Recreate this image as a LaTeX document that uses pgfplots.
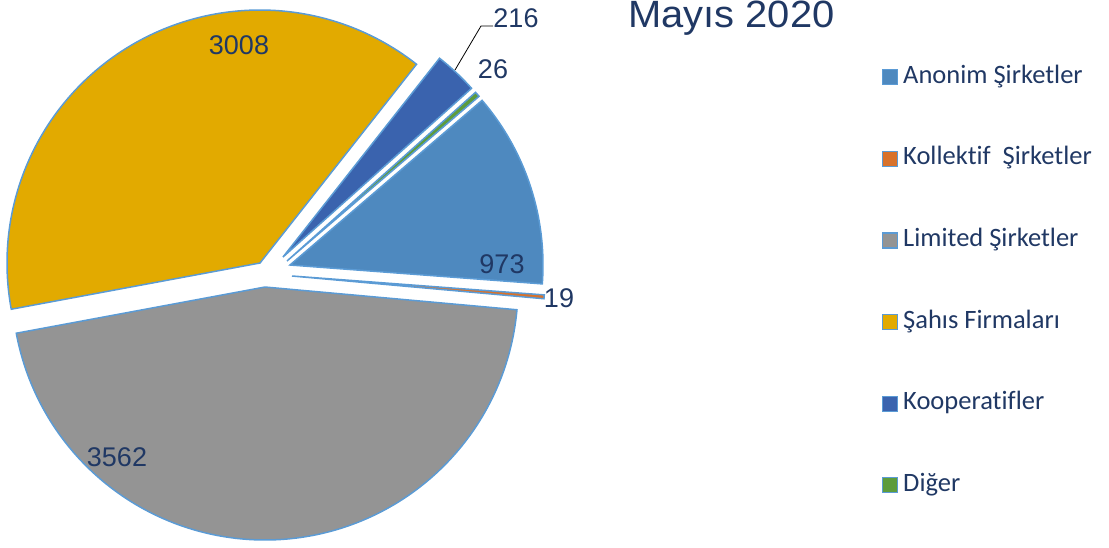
\documentclass[border=0pt]{standalone}
\usepackage{pgfplots}
\pgfplotsset{compat=1.18}
\usepackage{fontspec}
\newfontfamily\lib{Liberation Sans}
\newfontfamily\titlefont[FakeStretch=1.05]{Liberation Sans}
\newfontfamily\carlito[Ligatures=NoCommon]{Carlito}
\definecolor{navy}{HTML}{203864}
\definecolor{edge}{HTML}{5B9BD5}
\definecolor{cAnon}{HTML}{4E89BF}
\definecolor{cKoll}{HTML}{D8722B}
\definecolor{cLim}{HTML}{949494}
\definecolor{cSah}{HTML}{E2AA00}
\definecolor{cKoop}{HTML}{3A63AE}
\definecolor{cDig}{HTML}{5E9C3C}
% values
\def\vA{973}\def\vB{19}\def\vC{3562}\def\vD{3008}\def\vE{216}\def\vF{26}
\pgfmathsetmacro\tot{\vA+\vB+\vC+\vD+\vE+\vF}
\pgfmathsetmacro\aO{40.6}
\pgfmathsetmacro\aA{\aO-\vA/\tot*360}
\pgfmathsetmacro\aB{\aA-\vB/\tot*360}
\pgfmathsetmacro\aC{\aB-\vC/\tot*360}
\pgfmathsetmacro\aD{\aC-\vD/\tot*360}
\pgfmathsetmacro\aE{\aD-\vE/\tot*360}
\pgfmathsetmacro\aF{\aE-\vF/\tot*360}
\def\R{253}
\begin{document}
\begin{tikzpicture}
\useasboundingbox (0,0) rectangle (1109pt,547pt);
\clip (0,0) rectangle (1109pt,547pt);
\begin{axis}[
  scale only axis, width=1109pt, height=547pt,
  xmin=0, xmax=1109, ymin=0, ymax=547, y dir=reverse,
  hide axis, clip=false,
  area legend,
  legend image code/.code={\draw[#1, draw=edge, line width=1.2pt] (1pt,-7.5pt) rectangle (16pt,7.5pt); \path[draw=none, fill=none] (0pt,0pt) -- (21pt,0pt);},
  legend cell align=left,
  legend style={at={(axis cs:881,65)}, anchor=north west, draw=none, fill=none,
    font=\carlito\fontsize{26.5}{30}\selectfont, text=navy, row sep=57.6pt,
    inner sep=0pt,
    nodes={inner sep=1pt, text height=17pt, text depth=5pt}},
]
\addplot[fill=cAnon, draw=edge, line width=1.5pt, domain=\aA:\aO, samples=80, variable=\t]
  ({290+\R*cos(t)}, {265-\R*sin(t)}) -- (axis cs:290,265) -- cycle;
\addlegendentry{Anonim Şirketler}
\addplot[fill=cKoll, draw=edge, line width=1.5pt, domain=\aB:\aA, samples=5, variable=\t]
  ({292+\R*cos(t)}, {276-\R*sin(t)}) -- (axis cs:292,276) -- cycle;
\addlegendentry{Kollektif~ Şirketler}
\addplot[fill=cLim, draw=edge, line width=1.5pt, domain=\aC:\aB, samples=200, variable=\t]
  ({265+\R*cos(t)}, {287-\R*sin(t)}) -- (axis cs:265,287) -- cycle;
\addlegendentry{Limited Şirketler}
\addplot[fill=cSah, draw=edge, line width=1.5pt, domain=\aD:\aC, samples=180, variable=\t]
  ({260+\R*cos(t)}, {263-\R*sin(t)}) -- (axis cs:260,263) -- cycle;
\addlegendentry{Şahıs Firmaları}
\addplot[fill=cKoop, draw=edge, line width=1.5pt, domain=\aE:\aD, samples=20, variable=\t]
  ({283+\R*cos(t)}, {257-\R*sin(t)}) -- (axis cs:283,257) -- cycle;
\addlegendentry{Kooperatifler}
\addplot[fill=cDig, draw=edge, line width=1.5pt, domain=\aF:\aE, samples=5, variable=\t]
  ({287+\R*cos(t)}, {261-\R*sin(t)}) -- (axis cs:287,261) -- cycle;
\addlegendentry{Diğer}
% leader line
\addplot[black, line width=0.8pt, forget plot] coordinates {(455,70) (481,26) (493,26)};
% data labels
\begin{scope}[every node/.style={font=\lib\fontsize{27}{32}\selectfont, text=navy, inner sep=0pt}]
\node at (axis cs:239,45) {3008};
\node at (axis cs:117,457) {3562};
\node at (axis cs:502,264) {973};
\node at (axis cs:559,298) {19};
\node at (axis cs:493,69) {26};
\node at (axis cs:516,18) {216};
\end{scope}
\node[anchor=base west, inner sep=0pt, font=\titlefont\fontsize{38}{44}\selectfont, text=navy] at (axis cs:628,27.5) {Mayıs 2020};
\end{axis}
\end{tikzpicture}
\end{document}
